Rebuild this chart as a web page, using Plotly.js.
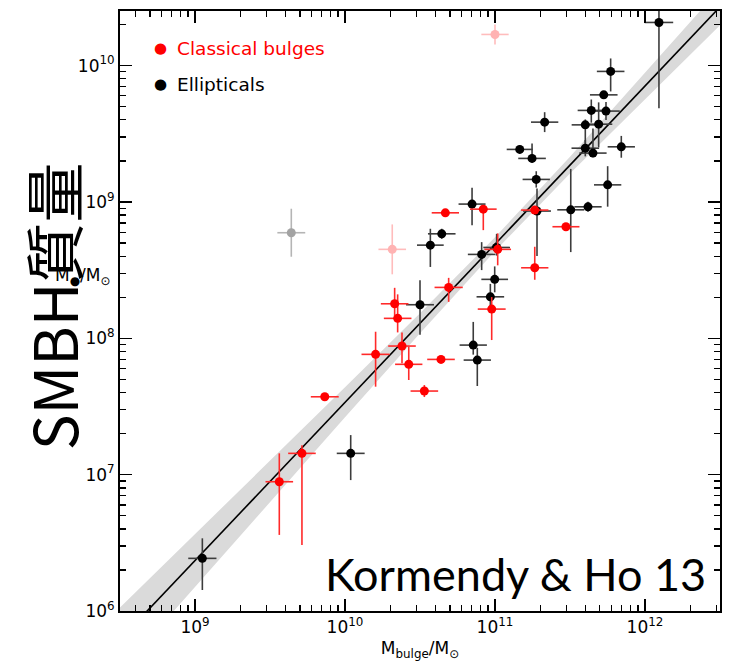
<!DOCTYPE html>
<html>
<head>
<meta charset="utf-8">
<script src="https://cdn.plot.ly/plotly-3.0.1.min.js"></script>
<style>html,body{margin:0;padding:0;background:#fff;}#chart{width:729px;height:664px;}</style>
</head>
<body>
<div id="chart"></div>
<script>
// ---- Data (log10 values) ----
// Ellipticals
const ellLogMbulge = [12.093, 11.771, 11.725, 11.642, 11.740, 11.331, 11.602, 11.691, 11.165, 11.602,
                      11.653, 11.842, 11.247, 11.275, 11.751, 10.847, 11.280, 11.505, 11.620, 10.645,
                      10.569, 10.911, 11.011, 10.998, 10.969, 10.500, 10.855, 10.882, 10.038, 9.049];
const ellLogMbh    = [10.316, 9.957, 9.785, 9.671, 9.666, 9.585, 9.565, 9.570, 9.385, 9.394,
                      9.358, 9.404, 9.319, 9.165, 9.125, 8.984, 8.933, 8.942, 8.964, 8.766,
                      8.683, 8.615, 8.666, 8.432, 8.304, 8.246, 7.950, 7.840, 7.156, 6.386];
const ellYErrUp    = [0.20, 0.095, 0.02, 0.08, 0.066, 0.073, 0.04, 0.16, 0.03, 0.06,
                      0.18, 0.08, 0.11, 0.06, 0.137, 0.12, 0.166, 0.30, 0.037, 0.037,
                      0.12, 0.09, 0.10, 0.095, 0.095, 0.18, 0.17, 0.09, 0.134, 0.147];
const ellYErrDn    = [0.63, 0.147, 0.02, 0.09, 0.066, 0.073, 0.18, 0.17, 0.03, 0.06,
                      0.03, 0.08, 0.03, 0.06, 0.16, 0.155, 0.33, 0.31, 0.037, 0.037,
                      0.16, 0.115, 0.06, 0.095, 0.095, 0.22, 0.07, 0.19, 0.196, 0.232];
const ellXErr      = [0.095, 0.092, 0.092, 0.091, 0.092, 0.091, 0.091, 0.091, 0.087, 0.092,
                      0.091, 0.091, 0.092, 0.091, 0.091, 0.090, 0.093, 0.090, 0.091, 0.092,
                      0.089, 0.092, 0.089, 0.089, 0.092, 0.093, 0.091, 0.091, 0.093, 0.094];

// Classical bulges
const cbLogMbulge = [10.669, 10.922, 11.265, 11.473, 11.018, 11.265, 10.691, 10.331, 10.351, 10.978,
                     10.204, 10.380, 10.425, 10.640, 10.529, 9.865, 9.562, 9.713];
const cbLogMbh    = [8.920, 8.947, 8.940, 8.818, 8.652, 8.517, 8.373, 8.253, 8.146, 8.214,
                     7.882, 7.943, 7.809, 7.845, 7.613, 7.571, 6.948, 7.156];
const cbYErrUp    = [0.02, 0.02, 0.02, 0.02, 0.117, 0.154, 0.07, 0.117, 0.176, 0.088,
                     0.166, 0.10, 0.13, 0.02, 0.044, 0.02, 0.208, 0.06];
const cbYErrDn    = [0.02, 0.154, 0.02, 0.02, 0.117, 0.088, 0.106, 0.088, 0.103, 0.227,
                     0.237, 0.127, 0.115, 0.02, 0.044, 0.02, 0.39, 0.672];
const cbXErr      = [0.091, 0.089, 0.091, 0.090, 0.089, 0.091, 0.094, 0.092, 0.092, 0.093,
                     0.094, 0.092, 0.091, 0.092, 0.092, 0.093, 0.092, 0.092];

// Omitted objects (pale)
const pinkLogMbulge = [11.000, 10.315];
const pinkLogMbh    = [10.228, 8.652];
const pinkYErr      = [0.073, 0.183];
const pinkXErr      = [0.091, 0.092];
const grayLogMbulge = [9.642];
const grayLogMbh    = [8.774];
const grayYErr      = [0.176];
const grayXErr      = [0.093];

// Fit line and its shaded band (log10)
const fitLogX  = [8.5, 12.5];
const fitLogY  = [5.79, 10.43];
const bandLogX = [8.5, 9.0, 9.5, 10.0, 10.5, 11.0, 11.5, 12.0, 12.5];
const bandLogHi = [6.026, 6.563, 7.101, 7.640, 8.183, 8.741, 9.331, 9.944, 10.564];
const bandLogLo = [5.554, 6.177, 6.799, 7.420, 8.037, 8.639, 9.209, 9.756, 10.296];

// Axis ticks
const xTickVals = [1e9, 1e10, 1e11, 1e12];
const xTickText = ['10<sup>9</sup>', '10<sup>10</sup>', '10<sup>11</sup>', '10<sup>12</sup>'];
const yTickVals = [1e6, 1e7, 1e8, 1e9, 1e10];
const yTickText = ['10<sup>6</sup>', '10<sup>7</sup>', '10<sup>8</sup>', '10<sup>9</sup>', '10<sup>10</sup>'];

// ---- helpers ----
const p10 = v => Math.pow(10, v);
function pts(lx, ly, xe, yu, yd, color, ecolor) {
  const x = lx.map(p10), y = ly.map(p10);
  return {
    type: 'scatter', mode: 'markers', x: x, y: y, showlegend: false, hoverinfo: 'skip',
    marker: {color: color, size: 9, line: {width: 0}},
    error_x: {type: 'data', symmetric: false,
      array: x.map((v, i) => p10(lx[i] + xe[i]) - v),
      arrayminus: x.map((v, i) => v - p10(lx[i] - xe[i])),
      color: ecolor, thickness: 1.6, width: 0},
    error_y: {type: 'data', symmetric: false,
      array: y.map((v, i) => p10(ly[i] + yu[i]) - v),
      arrayminus: y.map((v, i) => v - p10(ly[i] - yd[i])),
      color: ecolor, thickness: 1.6, width: 0}
  };
}

const traces = [
  {type: 'scatter', mode: 'lines', x: bandLogX.map(p10), y: bandLogLo.map(p10),
   line: {width: 0, color: 'rgba(0,0,0,0)'}, showlegend: false, hoverinfo: 'skip'},
  {type: 'scatter', mode: 'lines', x: bandLogX.map(p10), y: bandLogHi.map(p10),
   fill: 'tonexty', fillcolor: '#dadada', line: {width: 0, color: 'rgba(0,0,0,0)'},
   showlegend: false, hoverinfo: 'skip'},
  {type: 'scatter', mode: 'lines', x: fitLogX.map(p10), y: fitLogY.map(p10),
   line: {color: '#000', width: 1.6}, showlegend: false, hoverinfo: 'skip'},
  pts(grayLogMbulge, grayLogMbh, grayXErr, grayYErr, grayYErr, '#a3a3a3', '#b5b5b5'),
  pts(pinkLogMbulge, pinkLogMbh, pinkXErr, pinkYErr, pinkYErr, '#ffb3b3', '#ffbcbc'),
  pts(ellLogMbulge, ellLogMbh, ellXErr, ellYErrUp, ellYErrDn, '#000000', '#3c3c3c'),
  pts(cbLogMbulge, cbLogMbh, cbXErr, cbYErrUp, cbYErrDn, '#ff0000', '#ff2a2a')
];

const tickFont = {family: 'DejaVu Sans, sans-serif', size: 17, color: '#000'};
const axisCommon = {
  type: 'log', showgrid: false, zeroline: false,
  showline: true, linecolor: '#000', linewidth: 2, mirror: 'ticks',
  ticks: 'inside', ticklen: 12, tickwidth: 1.3, tickcolor: '#000',
  minor: {ticks: 'inside', ticklen: 6, tickwidth: 1.3, tickcolor: '#000', dtick: 'D1', showgrid: false},
  tickfont: tickFont
};

const layout = {
  width: 729, height: 664,
  margin: {l: 120, r: 9, t: 11, b: 53},
  paper_bgcolor: '#fff', plot_bgcolor: '#fff',
  xaxis: Object.assign({}, axisCommon, {
    range: [8.5, 12.5], tickmode: 'array', tickvals: xTickVals, ticktext: xTickText,
    title: {text: 'M<sub>bulge</sub>/M<sub>⊙</sub>', font: {family: 'DejaVu Sans, sans-serif', size: 17, color: '#000'}, standoff: 6}
  }),
  yaxis: Object.assign({}, axisCommon, {
    range: [6, 10.4], tickmode: 'array', tickvals: yTickVals, ticktext: yTickText
  }),
  annotations: [
    {xref: 'paper', yref: 'paper', x: 0.0683, y: 0.938, text: '●', showarrow: false,
     font: {family: 'DejaVu Sans', size: 15, color: '#ff0000'}, xanchor: 'center', yanchor: 'middle'},
    {xref: 'paper', yref: 'paper', x: 0.0917, y: 0.938, text: 'Classical bulges', showarrow: false,
     font: {family: 'DejaVu Sans', size: 18.5, color: '#ff0000'}, xanchor: 'left', yanchor: 'middle'},
    {xref: 'paper', yref: 'paper', x: 0.0683, y: 0.878, text: '●', showarrow: false,
     font: {family: 'DejaVu Sans', size: 15, color: '#000'}, xanchor: 'center', yanchor: 'middle'},
    {xref: 'paper', yref: 'paper', x: 0.0917, y: 0.878, text: 'Ellipticals', showarrow: false,
     font: {family: 'DejaVu Sans', size: 18.5, color: '#000'}, xanchor: 'left', yanchor: 'middle'},
    {xref: 'paper', yref: 'paper', x: 0.98, y: 0.062, text: 'Kormendy &amp; Ho 13', showarrow: false,
     font: {family: 'Lato, Open Sans, sans-serif', size: 45, color: '#000'}, xanchor: 'right', yanchor: 'middle'},
    {xref: 'paper', yref: 'paper', x: -0.115, y: 0.508, text: 'SMBH質量', showarrow: false, textangle: -90,
     font: {family: 'Noto Sans CJK TC, Noto Sans, sans-serif', size: 60, color: '#000'}, xanchor: 'center', yanchor: 'middle'},
    {xref: 'paper', yref: 'paper', x: -0.0633, y: 0.558,
     text: 'M<sub>●</sub>/M<sub>⊙</sub>', showarrow: false,
     font: {family: 'DejaVu Sans', size: 17, color: '#000'}, xanchor: 'center', yanchor: 'middle'}
  ]
};

Plotly.newPlot('chart', traces, layout, {displayModeBar: false, staticPlot: true});
</script>
</body>
</html>
